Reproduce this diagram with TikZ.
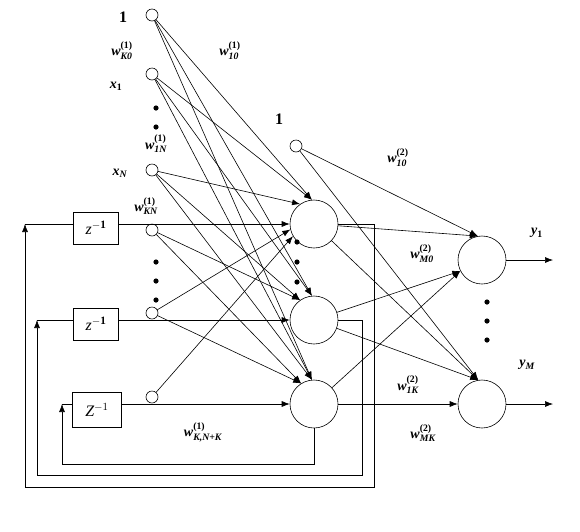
\documentclass[tikz,border=0pt]{standalone}
\usepackage{amsmath}
\usepackage{fontspec}
\setmainfont{Liberation Serif}
\usetikzlibrary{arrows.meta}
\tikzset{
    inp/.style={inner sep=0pt, circle, draw=black, fill=white, minimum size=12pt},
    neuron/.style={inner sep=0pt, circle, draw=black, fill=white, minimum size=48pt},
    delay/.style={inner sep=0pt, rectangle, draw=black, minimum width=45pt, minimum height=32pt, font=\fontsize{16}{18}\selectfont},
    conn/.style={-{Latex[length=8pt, width=6pt]}},
    lab/.style={inner sep=0pt, font=\fontsize{14}{16}\selectfont\bfseries},
    elli/.style={fill=black},
}
\newcommand{\bi}[1]{\text{\bfseries\itshape #1}}
\newcommand{\wlab}[2]{$\bi{w}^{\text{\bfseries(#1)}}_{\bi{#2}}$}

\begin{document}
\begin{tikzpicture}[x=1pt, y=-1pt, line width=0.6pt]
    \useasboundingbox (0,0) rectangle (580,531);
    \node[inp] (b1) at (152,15) {};
    \node[inp] (x1) at (152,74) {};
    \node[inp] (xN) at (152,170) {};
    \node[inp] (f1) at (152,230) {};
    \node[inp] (f2) at (152,313) {};
    \node[inp] (f3) at (152,397) {};
    \node[inp] (b2) at (296,146) {};
    \node[neuron] (h1) at (314,224) {};
    \node[neuron] (h2) at (314,320) {};
    \node[neuron] (h3) at (314,404) {};
    \node[neuron] (o1) at (482,260) {};
    \node[neuron] (o2) at (482,404) {};
    \node[delay] (d1) at (96,228) {{\itshape z}$^{-\text{\bfseries 1}}$};
    \node[delay] (d2) at (96,324) {{\itshape z}$^{-\text{\bfseries 1}}$};
    \node[delay, minimum width=49pt, minimum height=35pt] (d3) at (97,410) {{\itshape Z}$^{-1}$};
    \coordinate (y1end) at (553,260);
    \coordinate (yMend) at (553,404);
    \coordinate (c1) at (374,487);
    \coordinate (c2) at (362,475);
    \coordinate (c3) at (62,464);
    \coordinate (a1) at (25,224);
    \coordinate (a2) at (37,320);
    \coordinate (a3) at (62,404);

    \foreach \src in {b1,x1}{
        \draw[conn] (\src) -- (h1.95);
        \draw[conn] (\src) -- (h2.95);
        \draw[conn] (\src) -- (h3.95);
    }
    \draw[conn] (xN) -- (h1.125);
    \draw[conn] (xN) -- (h2.125);
    \draw[conn] (xN) -- (h3.95);
    \draw[conn] (f1) -- (h2.125);
    \draw[conn] (f1) -- (h3.122);
    \draw[conn] (f2) -- (h1.193);
    \draw[conn] (f2) -- (h3.122);
    \draw[conn] (f3) -- (h1.210);

    \draw[conn] (d1.east |- h1) -- (h1);
    \draw[conn] (d2.east |- h2) -- (h2);
    \draw[conn] (d3.east |- h3) -- (h3);
    \draw[conn] (h1.east) -| (c1) -| (a1);
    \draw (a1) -- (d1.west |- a1);
    \draw[conn] (h2.east) -| (c2) -| (a2);
    \draw (a2) -- (d2.west |- a2);
    \draw[conn] (h3.south) |- (c3) -- (a3);
    \draw (a3) -- (d3.west |- a3);

    \draw[conn] (b2) -- (o1.100);
    \draw[conn] (b2) -- (o2.99);
    \draw[conn] (h1) -- (o1.100);
    \draw[conn] (h1) -- (o2.99);
    \draw[conn] (h2) -- (o1.207);
    \draw[conn] (h2) -- (o2.99);
    \draw[conn] (h3) -- (o1.207);
    \draw[conn] (h3) -- (o2);
    \draw[conn] (o1) -- (y1end);
    \draw[conn] (o2) -- (yMend);

    \foreach \y in {108,127} \fill[elli] (156,\y) circle [radius=2.6pt];
    \foreach \y in {262,281,300} \fill[elli] (156,\y) circle [radius=2.6pt];
    \foreach \y in {242,262,282} \fill[elli] (297,\y) circle [radius=2.6pt];
    \foreach \y in {302,321,340} \fill[elli] (487,\y) circle [radius=2.6pt];

    \node[lab] (l1) at (123,17) {\fontsize{16}{18}\selectfont 1};
    \node[lab] (lK0) at (122,51) {\wlab{1}{K0}};
    \node[lab] (l10) at (230,51) {\wlab{1}{10}};
    \node[lab] (lx1) at (116,86) {$\bi{x}_{\text{\bfseries 1}}$};
    \node[lab] (l1N) at (156,144) {\wlab{1}{1N}};
    \node[lab] (lxN) at (120,173) {$\bi{x}_{\bi{N}}$};
    \node[lab] (lKN) at (146,206) {\wlab{1}{KN}};
    \node[lab] (lKNK) at (203,432) {\wlab{1}{K,N+K}};
    \node[lab] (l2) at (279,119) {\fontsize{16}{18}\selectfont 1};
    \node[lab] (m10) at (398,158) {\wlab{2}{10}};
    \node[lab] (mM0) at (422,254) {\wlab{2}{M0}};
    \node[lab] (m1K) at (408,385) {\wlab{2}{1K}};
    \node[lab] (mMK) at (423,433) {\wlab{2}{MK}};
    \node[lab] (ly1) at (537,233) {$\bi{y}_{\text{\bfseries 1}}$};
    \node[lab] (lyM) at (527,365) {$\bi{y}_{\bi{M}}$};
\end{tikzpicture}
\end{document}
